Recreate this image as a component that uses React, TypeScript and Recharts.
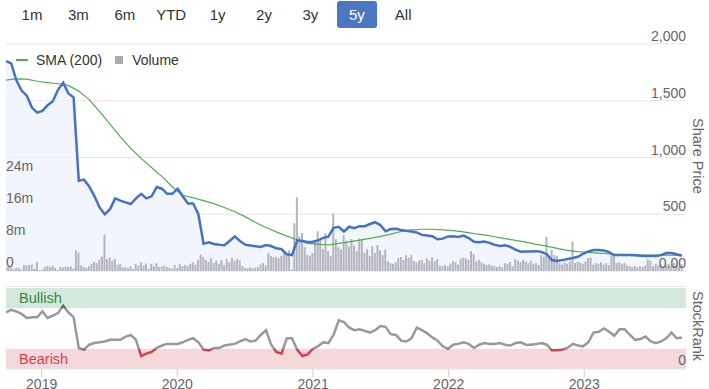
import React from "react";
import {
  ComposedChart,
  Area,
  Line,
  Bar,
  XAxis,
  YAxis,
  CartesianGrid,
  ReferenceArea,
  Legend,
} from "recharts";

const rangeButtons = ["1m", "3m", "6m", "YTD", "1y", "2y", "3y", "5y", "All"];
const activeRange = "5y";

const startDate = "2018-09-27";
const endDate = "2023-10-02";
const tickYears = [2019, 2020, 2021, 2022, 2023];

const priceTicks = [0, 500, 1000, 1500, 2000];
const volumeTicks = [0, 8, 16, 24]; // millions
const rankTicks = [0];

// weekly volume, millions of shares
const volume = [
  1.0, 1.1, 0.9, 0.4, 0.8, 0.8, 0.3, 1.5, 1.3, 1.5,
  1.6, 0.5, 2.3, 0.2, 0.3, 1.0, 1.2, 1.0, 1.3, 0.8,
  0.3, 1.0, 0.9, 1.1, 1.0, 1.2, 0.6, 5.2, 4.6, 1.4,
  1.0, 0.8, 1.2, 1.8, 2.3, 2.0, 2.8, 3.6, 9.2, 3.0,
  3.4, 2.6, 3.0, 1.6, 1.8, 0.9, 1.0, 0.7, 1.2, 0.5,
  1.8, 1.3, 2.2, 1.4, 1.9, 0.5, 1.8, 1.2, 2.0, 1.0,
  1.1, 1.4, 1.0, 0.8, 0.6, 1.5, 0.8, 1.7, 1.2, 1.5,
  1.2, 1.8, 2.2, 1.6, 2.8, 4.1, 3.5, 2.8, 2.3, 3.2,
  2.0, 2.6, 1.8, 2.8, 1.5, 3.0, 2.2, 3.4, 2.6, 3.0,
  2.6, 1.2, 0.8, 0.7, 0.9, 0.6, 0.8, 1.0, 1.6, 2.0,
  1.4, 4.5, 3.8, 3.4, 3.6, 3.2, 3.8, 5.0, 4.6, 5.2,
  0.4, 12.0, 18.5, 8.7, 9.5, 6.0, 4.0, 3.8, 4.5, 7.5,
  10.0, 7.8, 5.5, 9.5, 5.0, 3.8, 14.5, 8.0, 6.0, 5.4,
  9.0, 7.5, 6.2, 8.0, 6.4, 5.0, 8.2, 7.8, 4.6, 5.5,
  3.8, 6.2, 4.5, 6.5, 5.2, 4.0, 5.4, 2.4, 2.0, 1.8,
  2.2, 3.2, 3.5, 2.8, 4.0, 3.3, 4.0, 2.5, 2.2, 2.6,
  2.8, 2.0, 3.2, 2.6, 3.4, 2.4, 3.0, 1.4, 1.2, 1.5,
  1.2, 1.8, 2.5, 2.2, 1.6, 3.0, 3.4, 3.2, 2.8, 5.0,
  4.2, 2.4, 2.8, 2.2, 1.8, 1.5, 1.7, 1.4, 1.2, 1.0,
  1.3, 0.9, 2.0, 1.8, 2.2, 1.2, 3.0, 2.6, 2.2, 2.8,
  2.4, 2.0, 2.6, 1.8, 2.0, 1.5, 4.0, 3.6, 8.6, 3.2,
  5.4, 4.0, 3.8, 2.0, 1.6, 2.2, 1.8, 2.4, 7.4, 2.0,
  2.3, 2.1, 1.8, 2.4, 3.2, 3.4, 1.6, 2.0, 1.8, 2.2,
  1.6, 2.0, 1.4, 4.0, 3.8, 2.0, 2.2, 1.8, 2.0, 1.4,
  1.2, 1.0, 1.3, 0.9, 1.2, 1.0, 1.4, 3.0, 2.6, 1.2,
  1.8, 1.4, 1.6, 1.2, 1.5, 1.8, 1.4, 2.0, 1.6, 1.3, 1.7,
];

// share price, one reading every 2 weeks
const price = [
  1850, 1830, 1680, 1590, 1545, 1440, 1395, 1410, 1460, 1495,
  1596, 1660, 1565, 1530, 795, 805, 745, 660, 560, 500,
  545, 640, 620, 605, 590, 640, 680, 640, 658, 740,
  725, 680, 680, 725, 658, 595, 595, 500, 240, 252,
  238, 232, 228, 265, 305, 265, 232, 225, 218, 212,
  228, 220, 200, 193, 146, 140, 270, 265, 256, 258,
  270, 292, 302, 380, 390, 348, 390, 378, 395, 395,
  414, 430, 405, 350, 370, 372, 362, 355, 348, 340,
  318, 312, 307, 280, 285, 305, 307, 300, 312, 290,
  258, 254, 260, 248, 230, 220, 226, 213, 188, 170,
  172, 172, 175, 167, 148, 96, 88, 96, 106, 114,
  125, 152, 172, 184, 184, 180, 165, 140, 140, 140,
  140, 138, 135, 132, 132, 132, 140, 158, 158, 148,
  135,
];

// SMA (200), one reading every 4 weeks
const sma200 = [
  1682, 1692, 1690, 1672, 1660, 1650, 1635, 1585, 1510, 1405,
  1295, 1182, 1080, 992, 912, 832, 740, 667, 645, 620,
  594, 560, 522, 479, 428, 383, 345, 307, 275, 244,
  236, 229, 244, 257, 272, 287, 305, 325, 348, 362,
  368, 368, 363, 355, 345, 330, 318, 302, 285, 270,
  255, 235, 219, 200, 182, 170, 164, 158, 150, 145,
  140, 140, 140, 140, 140, 140,
];

// StockRank, one reading every 2 weeks
const stockRank = [
  70, 73, 71, 68, 63, 64, 64, 71, 63, 66,
  69, 78, 70, 64, 26, 24, 30, 32, 33, 34,
  36, 36, 36, 40, 42, 36, 16, 19, 21, 26,
  29, 31, 31, 31, 33, 36, 38, 33, 24, 23,
  26, 26, 29, 30, 31, 34, 37, 34, 35, 42,
  48, 30, 21, 19, 38, 38, 24, 16, 18, 25,
  28, 33, 32, 42, 60, 58, 51, 48, 49, 47,
  45, 48, 53, 52, 43, 42, 35, 34, 38, 51,
  48, 44, 39, 35, 28, 25, 30, 31, 33, 31,
  26, 30, 32, 31, 31, 32, 30, 29, 32, 33,
  30, 30, 31, 32, 30, 23, 23, 24, 26, 31,
  29, 28, 33, 45, 46, 50, 46, 41, 49, 49,
  42, 36, 37, 40, 34, 32, 34, 38, 45, 38,
  39,
];

const DAY = 86400000;
const t0 = Date.parse(startDate);
const t1 = Date.parse(endDate);
const weekTs = volume.map((_, i) => t0 + i * 7 * DAY);
const yearTs = tickYears.map((y) => Date.UTC(y, 0, 1));

const mainRows = weekTs.map((t, i) => ({
  t,
  volume: volume[i],
  price: i % 2 === 0 && price[i / 2] != null ? price[i / 2] : null,
  sma: i % 4 === 0 && sma200[i / 4] != null ? sma200[i / 4] : null,
}));

const rankRows = stockRank.map((v, k) => ({ t: weekTs[2 * k], rank: v }));

const W = 709;
const MAIN_H = 280;
const MAIN_MARGIN = { top: 44, right: 23, bottom: 9, left: 6 };
const RANK_H = 109;
const RANK_MARGIN = { top: 8, right: 23, bottom: 0, left: 6 };
const RANK_AXIS_H = 20;
const rankTop = RANK_MARGIN.top;
const rankBottom = RANK_H - RANK_MARGIN.bottom - RANK_AXIS_H;

const FONT = '"Liberation Sans", Arial, Helvetica, sans-serif';

const PriceTick = ({ x, y, payload }: any) => {
  const v = payload?.value;
  const label = v === 0 ? "0.00" : Number(v).toLocaleString("en-US");
  return (
    <text x={x} y={y} dy={-3} textAnchor="end" fill="#666" fontSize={14}>
      {label}
    </text>
  );
};

const VolumeTick = ({ x, y, payload }: any) => {
  const v = payload?.value;
  return (
    <text x={x} y={y} dy={-4} textAnchor="start" fill="#666" fontSize={14}>
      {v === 0 ? "0" : `${v}m`}
    </text>
  );
};

const RankTick = ({ x, y, payload }: any) => (
  <text x={x} y={y} dy={-4} textAnchor="end" fill="#666" fontSize={14}>
    {payload?.value}
  </text>
);

const YearTick = ({ x, y, payload }: any) => (
  <text x={x} y={y} dy={10} textAnchor="middle" fill="#666" fontSize={14}>
    {new Date(payload.value).getUTCFullYear()}
  </text>
);

const LegendContent = ({ payload }: any) => {
  const items = [...(payload ?? [])]
    .filter((it: any) => it.type !== "none" && it.value !== "price")
    .sort((a: any, b: any) => (a.type === "line" ? 0 : 1) - (b.type === "line" ? 0 : 1));
  return (
    <div style={{ display: "flex", alignItems: "center", fontSize: 14, color: "#333", lineHeight: "20px" }}>
      {items.map((it: any) => (
        <span key={it.value} style={{ display: "flex", alignItems: "center", marginRight: 13 }}>
          {it.type === "line" ? (
            <span style={{ width: 12, height: 1.5, background: it.color, marginRight: 8 }} />
          ) : (
            <span style={{ width: 8, height: 8, background: "#aaaab2", marginRight: 9 }} />
          )}
          <span>{it.value}</span>
        </span>
      ))}
    </div>
  );
};

export default function App() {
  return (
    <div
      style={{
        position: "absolute",
        left: 0,
        top: 0,
        width: W,
        height: 389,
        background: "#fff",
        fontFamily: FONT,
        overflow: "hidden",
      }}
    >
      {/* range selector */}
      {rangeButtons.map((label, i) => {
        const active = label === activeRange;
        return (
          <div
            key={label}
            style={{
              position: "absolute",
              left: 12 + i * 46.4,
              top: 1,
              width: 40,
              height: 27,
              lineHeight: "27px",
              textAlign: "center",
              fontSize: 15,
              color: active ? "#fff" : "#333",
              background: active ? "#4a76c2" : "transparent",
              borderRadius: 3,
            }}
          >
            {label}
          </div>
        );
      })}

      <div style={{ position: "absolute", left: 0, top: 0 }}>
        <ComposedChart width={W} height={MAIN_H} data={mainRows} margin={MAIN_MARGIN}>
          <CartesianGrid yAxisId="price" vertical={false} stroke="#e6e6e6" />
          <XAxis dataKey="t" type="number" domain={[t0, t1]} hide allowDataOverflow />
          <YAxis
            yAxisId="price"
            orientation="right"
            mirror
            domain={[0, 2000]}
            ticks={priceTicks}
            axisLine={false}
            tickLine={false}
            tickSize={0}
            tickMargin={0}
            tick={<PriceTick />}
          />
          <YAxis
            yAxisId="vol"
            orientation="left"
            mirror
            domain={[0, 57]}
            ticks={volumeTicks}
            axisLine={false}
            tickLine={false}
            tickSize={0}
            tickMargin={0}
            tick={<VolumeTick />}
            allowDataOverflow
          />
          <Area
            yAxisId="price"
            dataKey="price"
            stroke="none"
            fill="#eef2fa"
            fillOpacity={0.75}
            connectNulls
            legendType="none"
            isAnimationActive={false}
          />
          <Bar
            yAxisId="vol"
            dataKey="volume"
            name="Volume"
            fill="#b4b5bd"
            barSize={2}
            isAnimationActive={false}
          />
          <Line
            yAxisId="price"
            dataKey="sma"
            name="SMA (200)"
            stroke="#4caf50"
            strokeWidth={1.2}
            dot={false}
            connectNulls
            isAnimationActive={false}
          />
          <Line
            yAxisId="price"
            dataKey="price"
            stroke="#4672c4"
            strokeWidth={2.5}
            dot={false}
            connectNulls
            legendType="none"
            isAnimationActive={false}
          />
          <Legend
            layout="horizontal"
            align="center"
            verticalAlign="middle"
            content={<LegendContent />}
            wrapperStyle={{ position: "absolute", left: 16, top: 50, width: "auto" }}
          />
        </ComposedChart>
      </div>

      {/* StockRank panel */}
      <div style={{ position: "absolute", left: 6, top: 286, width: 680, height: 1, background: "#e6e6e6" }} />
      <div style={{ position: "absolute", left: 0, top: 280 }}>
        <ComposedChart width={W} height={RANK_H} data={rankRows} margin={RANK_MARGIN}>
          <defs>
            <linearGradient id="rankStroke" gradientUnits="userSpaceOnUse" x1="0" y1={rankTop} x2="0" y2={rankBottom}>
              <stop offset="0" stopColor="#2e8b45" />
              <stop offset="0.25" stopColor="#2e8b45" />
              <stop offset="0.25" stopColor="#999999" />
              <stop offset="0.75" stopColor="#999999" />
              <stop offset="0.75" stopColor="#d6404d" />
              <stop offset="1" stopColor="#d6404d" />
            </linearGradient>
          </defs>
          <XAxis
            dataKey="t"
            type="number"
            domain={[t0, t1]}
            ticks={yearTs}
            interval={0}
            height={RANK_AXIS_H}
            tickSize={8}
            axisLine={{ stroke: "#e6e6e6" }}
            tickLine={{ stroke: "#cccccc" }}
            tick={<YearTick />}
            allowDataOverflow
          />
          <YAxis
            orientation="right"
            mirror
            domain={[0, 100]}
            ticks={rankTicks}
            axisLine={false}
            tickLine={false}
            tickSize={0}
            tickMargin={0}
            tick={<RankTick />}
          />
          <ReferenceArea
            y1={75}
            y2={100}
            fill="#d4e9dc"
            fillOpacity={1}
            label={{ value: "Bullish", position: "insideLeft", offset: 13, fill: "#2e8b45", fontSize: 14.5 }}
          />
          <ReferenceArea
            y1={0}
            y2={25}
            fill="#f5d8db"
            fillOpacity={1}
            label={{ value: "Bearish", position: "insideLeft", offset: 13, fill: "#d6404d", fontSize: 14.5 }}
          />
          <Line
            dataKey="rank"
            stroke="url(#rankStroke)"
            strokeWidth={2.5}
            dot={false}
            legendType="none"
            isAnimationActive={false}
          />
        </ComposedChart>
      </div>

      <div
        style={{
          position: "absolute",
          left: 690,
          top: 118,
          width: 16,
          height: 80,
          writingMode: "vertical-rl",
          fontSize: 14.5,
          color: "#666",
          lineHeight: "16px",
          whiteSpace: "nowrap",
        }}
      >
        Share Price
      </div>
      <div
        style={{
          position: "absolute",
          left: 690,
          top: 291,
          width: 16,
          height: 74,
          writingMode: "vertical-rl",
          fontSize: 14.5,
          color: "#666",
          lineHeight: "16px",
          whiteSpace: "nowrap",
        }}
      >
        StockRank
      </div>
    </div>
  );
}
